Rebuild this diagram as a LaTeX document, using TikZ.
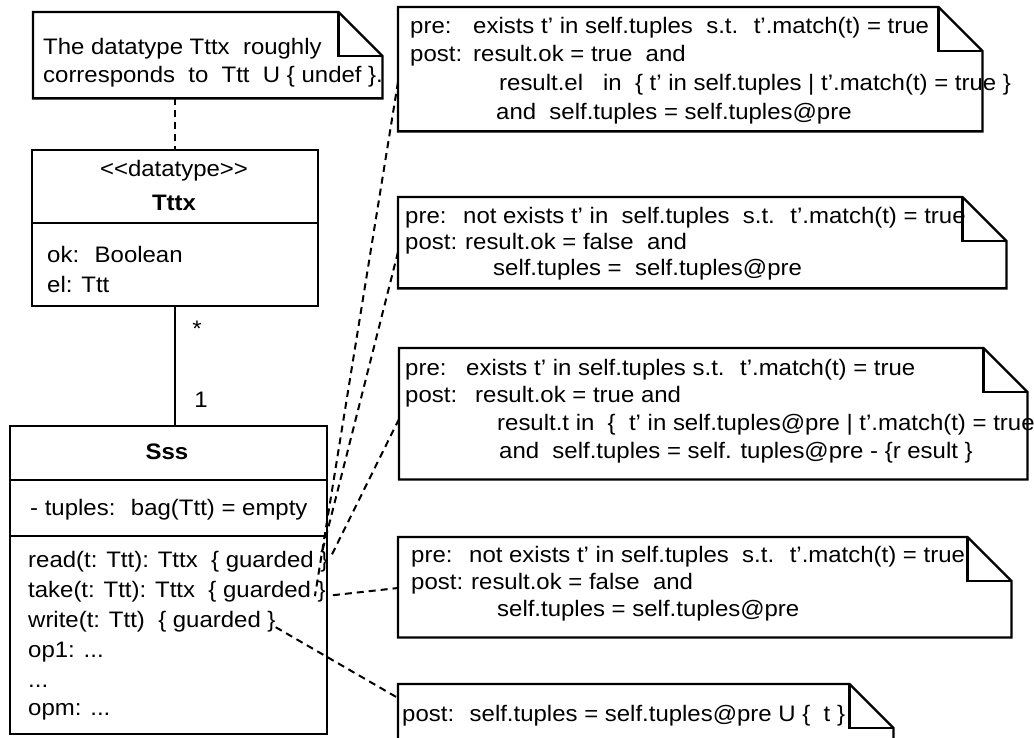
\documentclass[tikz,border=0pt]{standalone}
\usepackage{fontspec}
\setmainfont{Liberation Sans}[FakeStretch=1.07]
\usetikzlibrary{calc}
\newcommand\fs{\fontsize{22.4}{27}\selectfont}
% outline of a UML note with a folded corner: #1 node, #2 fold size
\newcommand\notepath[2]{%
  \draw[edge] (#1.north west) -- ($(#1.north east)+(-#2,0)$) -- ($(#1.north east)+(0,#2)$)
    -- (#1.south east) -- (#1.south west) -- cycle;
  \draw[edge] ($(#1.north east)+(-#2,0)$) |- ($(#1.north east)+(0,#2)$);
}
\begin{document}
\begin{tikzpicture}[x=1pt,y=-1pt,
  frame/.style={draw, line width=2.3pt, inner sep=0pt, anchor=north west},
  hidden/.style={inner sep=0pt, anchor=north west},
  txt/.style={anchor=base west, inner sep=0pt, font=\fs},
  ctxt/.style={anchor=base, inner sep=0pt, font=\fs},
  edge/.style={line width=2.3pt},
  link/.style={line width=2pt, dash pattern=on 7pt off 5pt},
]
\useasboundingbox (0,0) rectangle (1034,738);

% ---------- note on the datatype ----------
\node[hidden, minimum width=349pt, minimum height=86pt] (NA) at (33,12) {};
\notepath{NA}{44}
\node[txt] (na1) at (43,55) {The datatype Tttx~ roughly};
\node[txt] (na2) at (43,83) {corresponds~ to~ Ttt~ U \{ undef \}.};

% ---------- class Tttx ----------
\node[frame, minimum width=286pt, minimum height=156pt] (TX) at (31,149) {};
\draw[edge] ($(TX.north west)+(0,74)$) -- ($(TX.north east)+(0,74)$);
\node[ctxt] (tx1) at (174,177) {<\kern0pt<datatype>\kern0pt>};
\node[ctxt, font=\fs\bfseries] (tx2) at (174,211) {Tttx};
\node[txt] (tx3) at (47,263) {ok:~ Boolean};
\node[txt] (tx4) at (47,292) {el: Ttt};

% ---------- class Sss ----------
\node[frame, minimum width=317pt, minimum height=308pt] (SS) at (9,425) {};
\draw[edge] ($(SS.north west)+(0,55)$) -- ($(SS.north east)+(0,55)$);
\draw[edge] ($(SS.north west)+(0,111)$) -- ($(SS.north east)+(0,111)$);
\node[ctxt, font=\fs\bfseries] (ss1) at (167,459) {Sss};
\node[txt] (ss2) at (30,515) {- tuples:~ bag(Ttt) = empty};
\node[txt] (op1) at (28,567) {read(t: Ttt): Tttx~ \{ guarded \}};
\node[txt] (op2) at (28,597) {take(t: Ttt): Tttx~ \{ guarded \}};
\node[txt] (op3) at (28,627) {write(t: Ttt)~ \{ guarded \}};
\node[txt] (op4) at (28,657) {op1: ...};
\node[txt] (op5) at (28,687) {...};
\node[txt] (op6) at (28,715) {opm: ...};

% ---------- association ----------
\draw[link] (TX.north |- NA.south) -- (TX.north);
\draw[edge] (TX.south) -- (TX.south |- SS.north);
\node[ctxt] (m1) at (197,336) {*};
\node[ctxt] (m2) at (201,407) {1};

% ---------- note 1 ----------
\node[hidden, minimum width=584pt, minimum height=124pt] (N1) at (398,7) {};
\node[txt] (p1a) at (410,34) {pre:};
\node[txt] (p1b) at (473,34) {exists t’ in self.tuples~ s.t.~ t’.match(t) = true};
\node[txt] (p1c) at (410,62) {post:};
\node[txt] (p1d) at (473,62) {result.ok = true~ and};
\node[txt] (p1e) at (499,91) {result.el~~ in~ \{ t’ in self.tuples | t’.match(t) = true \}};
\node[txt] (p1f) at (496,120) {and~ self.tuples = self.tuples@pre};
\notepath{N1}{44}

% ---------- note 2 ----------
\node[hidden, minimum width=608pt, minimum height=91pt] (N2) at (398,197) {};
\node[txt] (p2a) at (405,224) {pre:};
\node[txt] (p2b) at (463,224) {not exists t’ in~ self.tuples~ s.t.~ t’.match(t) = true};
\node[txt] (p2c) at (405,250) {post:};
\node[txt] (p2d) at (465,250) {result.ok = false~ and};
\node[txt] (p2e) at (493,276) {self.tuples =~ self.tuples@pre};
\notepath{N2}{44}

% ---------- note 3 ----------
\node[hidden, minimum width=628pt, minimum height=131pt] (N3) at (399,348) {};
\node[txt] (p3a) at (405,375) {pre:};
\node[txt] (p3b) at (466,375) {exists t’ in self.tuples s.t.~ t’.match(t) = true};
\node[txt] (p3c) at (405,402) {post:};
\node[txt] (p3d) at (475,402) {result.ok = true and};
\node[txt] (p3e) at (497,430) {result.t in~ \{~ t’ in self.tuples@pre | t’.match(t) = true};
\node[txt] (p3f) at (499,458) {and~ self.tuples = self. tuples@pre - \{r esult \}};
\notepath{N3}{44}

% ---------- note 4 ----------
\node[hidden, minimum width=613pt, minimum height=100pt] (N4) at (398,537) {};
\node[txt] (p4a) at (411,562) {pre:};
\node[txt] (p4b) at (469,562) {not exists t’ in self.tuples~ s.t.~ t’.match(t) = true};
\node[txt] (p4c) at (411,589) {post:};
\node[txt] (p4d) at (471,589) {result.ok = false~ and};
\node[txt] (p4e) at (497,616) {self.tuples = self.tuples@pre};
\notepath{N4}{44}

% ---------- note 5 (runs past the lower edge) ----------
\begin{scope}
  \clip (0,0) rectangle (1034,738);
  \node[hidden, minimum width=495pt, minimum height=80pt] (N5) at (398,684) {};
  \notepath{N5}{44}
\end{scope}
\node[txt] (p5a) at (402,721) {post:~ self.tuples = self.tuples@pre U \{~ t \}};

% ---------- note anchors ----------
\draw[link] ($(N1.north west)+(0,75)$) -- ($(op2.east)+(-11,5)$);
\draw[link] ($(N2.north west)+(0,55)$) -- ($(op1.east)+(-6,-11)$);
\draw[link] ($(N3.north west)+(0,71)$) -- ($(op1.east)+(3,-6)$);
\draw[link] ($(op2.east)+(7,4)$) -- ($(N4.north west)+(0,51)$);
\draw[link] ($(op3.east)+(0,6)$) -- ($(N5.north west)+(0,14)$);
\end{tikzpicture}
\end{document}
